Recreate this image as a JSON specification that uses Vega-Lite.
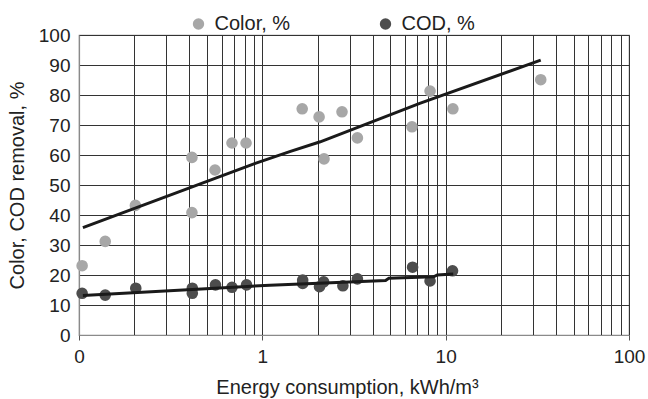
{
  "$schema": "https://vega.github.io/schema/vega-lite/v6.json",
  "width": 550,
  "height": 300,
  "autosize": {"type": "none"},
  "padding": {"left": 79, "top": 35, "right": 19, "bottom": 64},
  "config": {
    "font": "Liberation Sans",
    "view": {"stroke": "#8a8a8a", "strokeWidth": 1.2},
    "axis": {"labelFont": "Liberation Sans", "titleFont": "Liberation Sans", "labelColor": "#222", "titleColor": "#222", "titleFontWeight": "normal"}
  },
  "datasets": {
    "pts": [
      {"x": 0.104, "y": 23.1, "series": "Color, %"},
      {"x": 0.139, "y": 31.2, "series": "Color, %"},
      {"x": 0.203, "y": 43.2, "series": "Color, %"},
      {"x": 0.413, "y": 59.2, "series": "Color, %"},
      {"x": 0.413, "y": 40.8, "series": "Color, %"},
      {"x": 0.552, "y": 55.0, "series": "Color, %"},
      {"x": 0.683, "y": 64.0, "series": "Color, %"},
      {"x": 0.815, "y": 64.0, "series": "Color, %"},
      {"x": 1.65, "y": 75.4, "series": "Color, %"},
      {"x": 2.04, "y": 72.7, "series": "Color, %"},
      {"x": 2.17, "y": 58.7, "series": "Color, %"},
      {"x": 2.72, "y": 74.4, "series": "Color, %"},
      {"x": 3.30, "y": 65.7, "series": "Color, %"},
      {"x": 6.55, "y": 69.4, "series": "Color, %"},
      {"x": 8.22, "y": 81.3, "series": "Color, %"},
      {"x": 10.95, "y": 75.4, "series": "Color, %"},
      {"x": 33.0, "y": 85.1, "series": "Color, %"},
      {"x": 0.104, "y": 13.9, "series": "COD, %"},
      {"x": 0.139, "y": 13.3, "series": "COD, %"},
      {"x": 0.204, "y": 15.6, "series": "COD, %"},
      {"x": 0.415, "y": 15.6, "series": "COD, %"},
      {"x": 0.415, "y": 13.9, "series": "COD, %"},
      {"x": 0.555, "y": 16.7, "series": "COD, %"},
      {"x": 0.683, "y": 15.9, "series": "COD, %"},
      {"x": 0.82, "y": 16.7, "series": "COD, %"},
      {"x": 1.66, "y": 18.3, "series": "COD, %"},
      {"x": 1.66, "y": 17.2, "series": "COD, %"},
      {"x": 2.05, "y": 16.1, "series": "COD, %"},
      {"x": 2.16, "y": 17.7, "series": "COD, %"},
      {"x": 2.75, "y": 16.4, "series": "COD, %"},
      {"x": 3.30, "y": 18.7, "series": "COD, %"},
      {"x": 6.6, "y": 22.6, "series": "COD, %"},
      {"x": 8.22, "y": 18.0, "series": "COD, %"},
      {"x": 10.9, "y": 21.4, "series": "COD, %"}
    ],
    "trend": [
      {"x": 0.105, "y": 35.8, "series": "Color"},
      {"x": 0.915, "y": 57.2, "series": "Color"},
      {"x": 1.41, "y": 61.1, "series": "Color"},
      {"x": 2.07, "y": 64.4, "series": "Color"},
      {"x": 7.22, "y": 77.2, "series": "Color"},
      {"x": 33.0, "y": 91.6, "series": "Color"},
      {"x": 0.105, "y": 13.2, "series": "COD"},
      {"x": 1.1, "y": 16.6, "series": "COD"},
      {"x": 4.7, "y": 18.2, "series": "COD"},
      {"x": 4.9, "y": 18.9, "series": "COD"},
      {"x": 8.6, "y": 19.4, "series": "COD"},
      {"x": 9.0, "y": 20.0, "series": "COD"},
      {"x": 11.0, "y": 20.3, "series": "COD"}
    ]
  },
  "encoding": {
    "x": {
      "field": "x", "type": "quantitative",
      "scale": {"type": "log", "domain": [0.1, 100], "nice": false},
      "axis": {
        "title": "Energy consumption, kWh/m³",
        "titleFontSize": 20,
        "titlePadding": 11,
        "titleX": 268,
        "values": [0.1,0.2,0.3,0.4,0.5,0.6,0.7,0.8,0.9,1,2,3,4,5,6,7,8,9,10,20,30,40,50,60,70,80,90,100],
        "labelExpr": "datum.value == 0.1 ? '0' : (datum.value == 1 || datum.value == 10 || datum.value == 100) ? format(datum.value, 'd') : ''",
        "labelOverlap": false,
        "labelFontSize": 19,
        "labelPadding": 7,
        "labelFlush": false,
        "tickSize": 5,
        "tickColor": "#555",
        "tickOpacity": {"condition": {"test": "datum.value == 0.1 || datum.value == 1 || datum.value == 10 || datum.value == 100", "value": 1}, "value": 0},
        "grid": true,
        "gridColor": "#333333",
        "gridWidth": 1,
        "gridOpacity": 1,
        "domainColor": "#8a8a8a",
        "domainWidth": 1.2
      }
    },
    "y": {
      "field": "y", "type": "quantitative",
      "scale": {"type": "linear", "domain": [0, 100], "nice": false, "zero": true},
      "axis": {
        "title": "Color, COD removal, %",
        "titleFontSize": 20,
        "titlePadding": 11,
        "values": [0,10,20,30,40,50,60,70,80,90,100],
        "labelOverlap": false,
        "labelFontSize": 19,
        "labelPadding": 9,
        "tickSize": 0,
        "grid": true,
        "gridColor": "#333333",
        "gridWidth": 1,
        "gridOpacity": 1,
        "domainColor": "#8a8a8a",
        "domainWidth": 1.2
      }
    }
  },
  "layer": [
    {
      "data": {"name": "pts"},
      "mark": {"type": "circle", "size": 135, "opacity": 1},
      "encoding": {
        "color": {
          "field": "series", "type": "nominal",
          "scale": {"domain": ["Color, %", "COD, %"], "range": ["#a7a7a7", "#4d4d4d"]},
          "legend": {
            "title": null,
            "orient": "none",
            "direction": "horizontal",
            "legendX": 109.5,
            "legendY": -21,
            "labelFontSize": 20,
            "labelColor": "#222",
            "labelFont": "Liberation Sans",
            "symbolType": "circle",
            "symbolSize": 130,
            "symbolStrokeWidth": 0,
            "labelOffset": 6,
            "columnPadding": 85
          }
        }
      }
    },
    {
      "data": {"name": "trend"},
      "mark": {"type": "line", "color": "#1a1a1a", "strokeWidth": 3},
      "encoding": {
        "detail": {"field": "series", "type": "nominal"}
      }
    }
  ]
}
